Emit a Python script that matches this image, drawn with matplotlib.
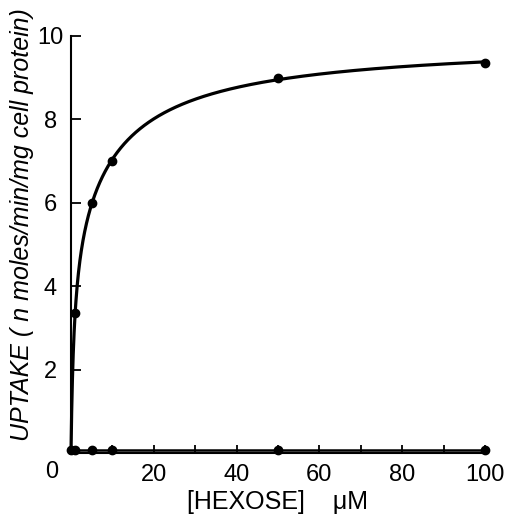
import numpy as np
import matplotlib
matplotlib.use('Agg')
import matplotlib.pyplot as plt

plt.rcParams['font.family'] = ['Liberation Sans', 'DejaVu Sans']

# 数据：己糖浓度 (uM) 与摄取速率
hexose_top = [1, 5, 10, 50, 100]
uptake_top = [3.35, 6.0, 7.0, 9.0, 9.35]

hexose_low = [0, 1, 5, 10, 50, 100]
uptake_low = [0.08, 0.08, 0.08, 0.08, 0.08, 0.08]

x_ticks = [10, 20, 30, 40, 50, 60, 70, 80, 90, 100]
x_ticklabels = ['', '20', '', '40', '', '60', '', '80', '', '100']
y_ticks = [2, 4, 6, 8, 10]


def fit_two_site(s, v):
    """两位点米氏方程拟合：网格搜索 K1, K2，线性最小二乘求 V1, V2"""
    s = np.asarray(s, float)
    v = np.asarray(v, float)
    best = None
    for k1 in np.logspace(-2, 1.2, 120):
        for k2 in np.logspace(0, 3, 120):
            a = np.column_stack([s / (k1 + s), s / (k2 + s)])
            coef, *_ = np.linalg.lstsq(a, v, rcond=None)
            if np.any(coef < 0):
                continue
            err = np.sum((a @ coef - v) ** 2)
            if best is None or err < best[0]:
                best = (err, k1, k2, coef)
    _, k1, k2, (v1, v2) = best
    return lambda x: v1 * x / (k1 + x) + v2 * x / (k2 + x)


curve = fit_two_site(hexose_top, uptake_top)
xs = np.concatenate([np.linspace(0, 1, 200), np.linspace(0, 100, 2000)])
xs.sort()

fig = plt.figure(figsize=(5.06, 5.19), dpi=100)
ax = fig.add_axes([71 / 506, 1 - 453 / 519, (485 - 71) / 506, (453 - 36) / 519])

ax.plot(xs, curve(xs), color='black', lw=2.3, zorder=3, clip_on=False)
ax.plot(hexose_top, uptake_top, 'o', color='black', ms=6, zorder=4, clip_on=False)
ax.plot(hexose_low, uptake_low, 'o-', color='black', lw=1.8, ms=6, zorder=4, clip_on=False)

ax.set_xlim(0, 100)
ax.set_ylim(0, 10)
ax.spines['top'].set_visible(False)
ax.spines['right'].set_visible(False)
ax.spines['left'].set_linewidth(1.5)
ax.spines['bottom'].set_linewidth(1.5)

ax.set_xticks(x_ticks)
ax.set_xticklabels(x_ticklabels)
ax.set_yticks(y_ticks)
ax.set_yticklabels([str(t) for t in y_ticks])
ax.tick_params(axis='x', direction='in', length=6, width=1.3, labelsize=17, pad=8)
ax.tick_params(axis='y', direction='in', length=7, width=1.3, labelsize=17, pad=15)
for lab in ax.get_yticklabels():
    lab.set_horizontalalignment('center')

# 角落的 "0"
ax.text(-4.6, -0.45, '0', fontsize=17, ha='center', va='center', clip_on=False)

ax.set_xlabel('[HEXOSE]    \u03bcM', fontsize=18, labelpad=3)
fig.text(22 / 506, 1 - 225 / 519, 'UPTAKE ( n moles/min/mg cell protein)',
         rotation=90, fontsize=18, style='italic', ha='center', va='center')

fig.savefig('out.png', dpi=100)
